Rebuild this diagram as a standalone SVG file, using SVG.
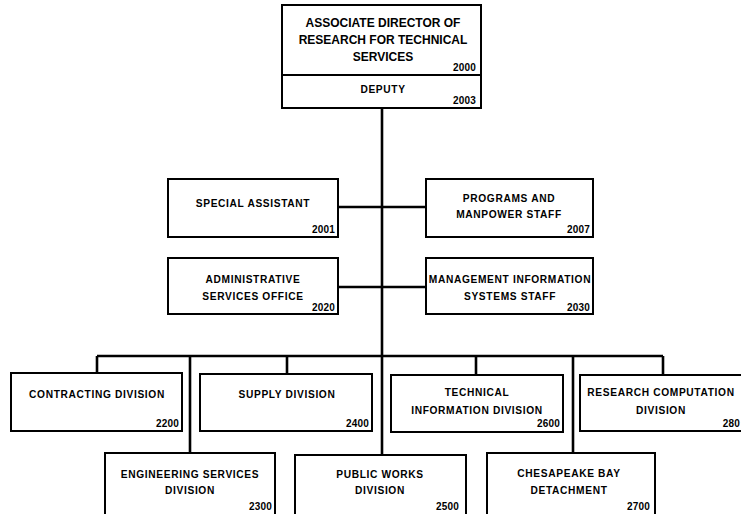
<svg xmlns="http://www.w3.org/2000/svg" width="741" height="514" viewBox="0 0 741 514">
<style>
.box{fill:#fff;stroke:#000;stroke-width:2}
.conn{fill:none;stroke:#000;stroke-width:2.6}
text{font-family:"Liberation Sans",Arial,sans-serif;fill:#000}
.t{font-size:10.2px;text-anchor:middle;font-weight:bold;letter-spacing:0.65px}
.h{font-size:12px;text-anchor:middle;font-weight:bold}
.n{font-size:10px;text-anchor:end;font-weight:bold;letter-spacing:0.2px}
</style>
<rect width="741" height="514" fill="#fff"/>
<g id="connectors">
<path class="conn" d="M382 108 V455"/>
<path class="conn" d="M338 207 H426"/>
<path class="conn" d="M338 287 H426"/>
<path class="conn" d="M97 356 H663"/>
<path class="conn" d="M97 356 V373"/>
<path class="conn" d="M190 356 V453"/>
<path class="conn" d="M287 356 V374"/>
<path class="conn" d="M476 356 V375"/>
<path class="conn" d="M573 356 V453"/>
<path class="conn" d="M663 356 V375"/>
</g>
<g id="n2000">
<rect class="box" x="282" y="5" width="199" height="70"/>
<text class="h" x="383" y="27">ASSOCIATE DIRECTOR OF</text>
<text class="h" x="383" y="44">RESEARCH FOR TECHNICAL</text>
<text class="h" x="383" y="61">SERVICES</text>
<text class="n" x="476" y="71">2000</text>
</g>
<g id="n2003">
<rect class="box" x="282" y="75" width="199" height="33"/>
<text class="t" x="383" y="93">DEPUTY</text>
<text class="n" x="476" y="104">2003</text>
</g>
<g id="n2001">
<rect class="box" x="168" y="179" width="170" height="58"/>
<text class="t" x="253" y="207">SPECIAL ASSISTANT</text>
<text class="n" x="335" y="233">2001</text>
</g>
<g id="n2007">
<rect class="box" x="426" y="179" width="167" height="58"/>
<text class="t" x="509" y="202">PROGRAMS AND</text>
<text class="t" x="509" y="218">MANPOWER STAFF</text>
<text class="n" x="590" y="233">2007</text>
</g>
<g id="n2020">
<rect class="box" x="168" y="258" width="170" height="56"/>
<text class="t" x="253" y="283">ADMINISTRATIVE</text>
<text class="t" x="253" y="300">SERVICES OFFICE</text>
<text class="n" x="335" y="311">2020</text>
</g>
<g id="n2030">
<rect class="box" x="426" y="258" width="167" height="56"/>
<text class="t" x="510" y="283">MANAGEMENT INFORMATION</text>
<text class="t" x="510" y="300">SYSTEMS STAFF</text>
<text class="n" x="590" y="311">2030</text>
</g>
<g id="n2200">
<rect class="box" x="11" y="373" width="171" height="58"/>
<text class="t" x="97" y="398">CONTRACTING DIVISION</text>
<text class="n" x="179" y="427">2200</text>
</g>
<g id="n2400">
<rect class="box" x="200" y="374" width="172" height="57"/>
<text class="t" x="287" y="398">SUPPLY DIVISION</text>
<text class="n" x="369" y="427">2400</text>
</g>
<g id="n2600">
<rect class="box" x="391" y="375" width="172" height="57"/>
<text class="t" x="477" y="396">TECHNICAL</text>
<text class="t" x="477" y="414">INFORMATION DIVISION</text>
<text class="n" x="560" y="427">2600</text>
</g>
<g id="n2800">
<rect class="box" x="580" y="375" width="166" height="56"/>
<text class="t" x="661" y="396">RESEARCH COMPUTATION</text>
<text class="t" x="661" y="414">DIVISION</text>
<text class="n" x="740" y="427">280</text>
</g>
<g id="n2300">
<rect class="box" x="105" y="453" width="170" height="66"/>
<text class="t" x="190" y="478">ENGINEERING SERVICES</text>
<text class="t" x="190" y="494">DIVISION</text>
<text class="n" x="272" y="510">2300</text>
</g>
<g id="n2500">
<rect class="box" x="295" y="455" width="171" height="64"/>
<text class="t" x="380" y="478">PUBLIC WORKS</text>
<text class="t" x="380" y="494">DIVISION</text>
<text class="n" x="459" y="510">2500</text>
</g>
<g id="n2700">
<rect class="box" x="487" y="453" width="168" height="66"/>
<text class="t" x="569" y="477">CHESAPEAKE BAY</text>
<text class="t" x="569" y="494">DETACHMENT</text>
<text class="n" x="650" y="510">2700</text>
</g>
</svg>
